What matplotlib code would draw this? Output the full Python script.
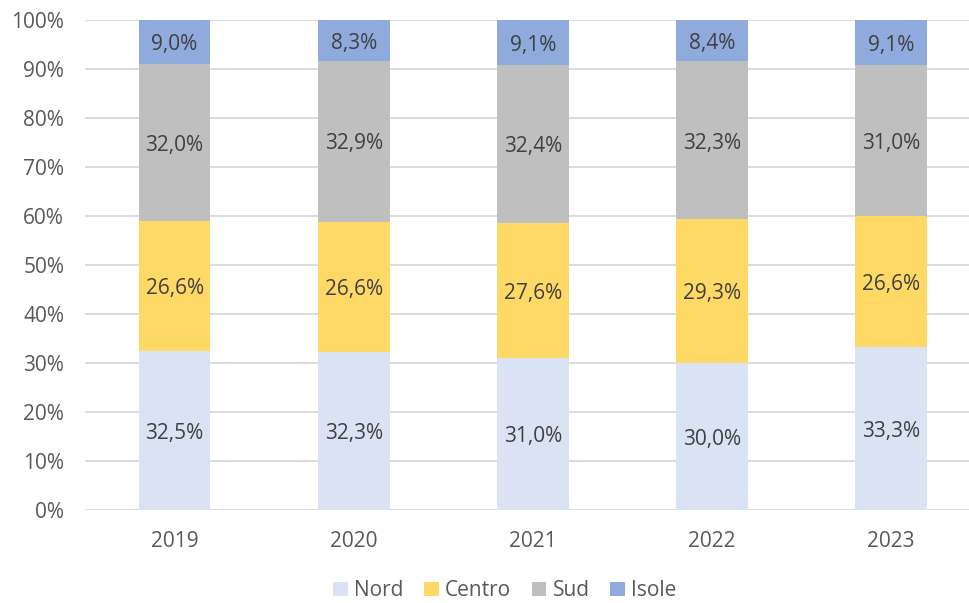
import matplotlib.pyplot as plt
import numpy as np

# quote percentuali per area geografica
anni = ['2019', '2020', '2021', '2022', '2023']
nord = [32.5, 32.3, 31.0, 30.0, 33.3]
centro = [26.6, 26.6, 27.6, 29.3, 26.6]
sud = [32.0, 32.9, 32.4, 32.3, 31.0]
isole = [9.0, 8.3, 9.1, 8.4, 9.1]

serie = [('Nord', nord, '#DAE3F3'),
         ('Centro', centro, '#FFD966'),
         ('Sud', sud, '#BFBFBF'),
         ('Isole', isole, '#8FAADC')]

plt.rcParams['font.family'] = ['Open Sans', 'DejaVu Sans']

fig = plt.figure(figsize=(9.69, 6.03), dpi=100)
ax = fig.add_axes([85 / 969, 93 / 603, 1 - 85 / 969, 490 / 603])

x = np.arange(len(anni))
totale = np.sum([s[1] for s in serie], axis=0)
base = np.zeros(len(anni))

for nome, valori, colore in serie:
    quota = np.array(valori) / totale * 100
    ax.bar(x, quota, 0.40, bottom=base, color=colore, label=nome, zorder=3)
    for i in range(len(anni)):
        ax.annotate('{:.1f}%'.format(valori[i]).replace('.', ','),
                    (x[i], base[i] + quota[i] / 2), xytext=(0, -2), textcoords='offset points',
                    ha='center', va='center', fontsize=15, color='#404040', zorder=4)
    base = base + quota

ax.set_xlim(-0.5, 4.435)
ax.set_ylim(0, 100)
ax.set_yticks(np.arange(0, 101, 10))
ax.set_yticklabels(['{}%'.format(v) for v in range(0, 101, 10)])
ax.set_xticks(x)
ax.set_xticklabels(anni)
ax.grid(axis='y', color='#D9D9D9', linewidth=1.3, zorder=0)
ax.tick_params(axis='both', length=0, labelsize=15, labelcolor='#595959')
ax.tick_params(axis='y', pad=15)
ax.tick_params(axis='x', pad=15)
for s in ax.spines.values():
    s.set_visible(False)

fig.legend(loc='center', bbox_to_anchor=(0.521, 0.02), ncol=4,
           frameon=False, fontsize=15, handlelength=0.7, handleheight=0.7,
           handletextpad=0.3, columnspacing=1.0, labelcolor='#595959',
           borderpad=0.2)

fig.savefig('out.png', dpi=100)
